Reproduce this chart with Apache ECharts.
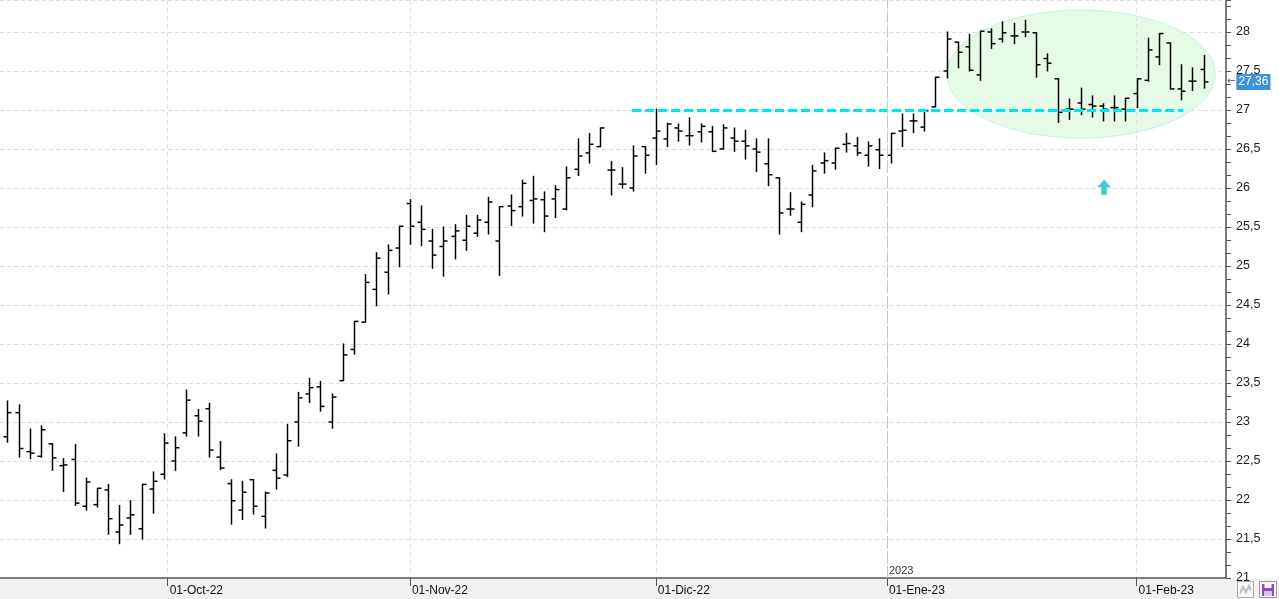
<!DOCTYPE html>
<html>
<head>
<meta charset="utf-8">
<script src="https://cdn.jsdelivr.net/npm/echarts@6/dist/echarts.min.js"></script>
<style>
html,body{margin:0;padding:0;background:#fff;}
#chart{width:1279px;height:599px;}
</style>
</head>
<body>
<div id="chart"></div>
<script>
// ---- DATA ----
const dates = [
'2022-09-12','2022-09-13','2022-09-14','2022-09-15','2022-09-16','2022-09-19','2022-09-20','2022-09-21','2022-09-22','2022-09-23','2022-09-26','2022-09-27','2022-09-28','2022-09-29','2022-09-30',
'2022-10-03','2022-10-04','2022-10-05','2022-10-06','2022-10-07','2022-10-10','2022-10-11','2022-10-12','2022-10-13','2022-10-14','2022-10-17','2022-10-18','2022-10-19','2022-10-20','2022-10-21','2022-10-24','2022-10-25','2022-10-26','2022-10-27','2022-10-28','2022-10-31',
'2022-11-01','2022-11-02','2022-11-03','2022-11-04','2022-11-07','2022-11-08','2022-11-09','2022-11-10','2022-11-11','2022-11-14','2022-11-15','2022-11-16','2022-11-17','2022-11-18','2022-11-21','2022-11-22','2022-11-23','2022-11-24','2022-11-25','2022-11-28','2022-11-29','2022-11-30',
'2022-12-01','2022-12-02','2022-12-05','2022-12-06','2022-12-07','2022-12-08','2022-12-09','2022-12-12','2022-12-13','2022-12-14','2022-12-15','2022-12-16','2022-12-19','2022-12-20','2022-12-21','2022-12-22','2022-12-23','2022-12-27','2022-12-28','2022-12-29','2022-12-30',
'2023-01-02','2023-01-03','2023-01-04','2023-01-05','2023-01-06','2023-01-09','2023-01-10','2023-01-11','2023-01-12','2023-01-13','2023-01-16','2023-01-17','2023-01-18','2023-01-19','2023-01-20','2023-01-23','2023-01-24','2023-01-25','2023-01-26','2023-01-27','2023-01-30','2023-01-31',
'2023-02-01','2023-02-02','2023-02-03','2023-02-06','2023-02-07','2023-02-08','2023-02-09'
];
const opens = [22.81,23.12,22.62,22.56,22.72,22.44,22.52,21.92,21.94,22.13,21.59,21.77,21.63,22.14,22.33,22.50,22.86,23.08,23.17,22.55,22.21,21.87,22.26,21.79,22.38,22.32,23.00,23.36,23.45,23.00,23.53,23.93,24.28,24.70,24.92,25.23,25.80,25.56,25.32,25.25,25.38,25.33,25.42,25.56,25.32,25.77,25.76,25.84,25.85,25.86,25.73,26.24,26.45,26.53,26.23,26.05,26.00,26.53,26.64,26.63,26.77,26.67,26.72,26.72,26.50,26.64,26.60,26.50,26.31,26.13,25.73,25.56,25.91,26.32,26.32,26.56,26.54,26.42,26.49,26.42,26.73,26.86,26.78,27.04,27.50,27.87,27.81,27.45,28.00,27.91,27.95,28.00,27.99,27.66,27.40,27.01,27.09,27.07,27.05,27.03,27.01,27.21,27.38,27.68,27.86,27.27,27.37,27.52];
const highs = [23.27,23.22,22.91,22.95,22.72,22.53,22.71,22.28,22.15,22.20,21.93,21.99,22.20,22.36,22.85,22.81,23.41,23.16,23.24,22.75,22.26,22.24,22.26,22.10,22.59,22.97,23.38,23.56,23.52,23.36,24.00,24.29,24.89,25.17,25.27,25.51,25.85,25.77,25.47,25.50,25.53,25.65,25.65,25.88,25.76,25.91,26.10,26.15,25.95,26.03,26.27,26.63,26.70,26.77,26.34,26.26,26.54,26.53,27.01,26.83,26.82,26.90,26.82,26.79,26.81,26.77,26.74,26.63,26.63,26.13,25.94,25.82,26.29,26.45,26.51,26.70,26.65,26.59,26.63,26.70,26.95,26.95,26.99,27.42,28.00,27.87,27.97,28.01,28.04,28.13,28.11,28.15,27.99,27.72,27.40,27.14,27.28,27.18,27.08,27.18,27.15,27.40,27.92,27.98,27.86,27.58,27.54,27.70];
const lows = [22.74,22.55,22.53,22.55,22.38,22.11,21.93,21.87,21.91,21.56,21.44,21.56,21.50,21.83,22.27,22.38,22.82,22.82,22.55,22.39,21.69,21.75,21.82,21.64,22.14,22.30,22.69,23.25,23.14,22.92,23.53,23.87,24.28,24.49,24.64,24.99,25.28,25.26,24.97,24.87,25.09,25.20,25.38,25.41,24.88,25.52,25.64,25.55,25.44,25.62,25.72,26.16,26.32,26.53,25.91,26.00,25.96,26.19,26.30,26.53,26.60,26.55,26.59,26.47,26.50,26.47,26.37,26.21,26.03,25.41,25.65,25.44,25.76,26.19,26.24,26.46,26.42,26.28,26.25,26.32,26.53,26.71,26.73,27.04,27.41,27.54,27.50,27.38,27.79,27.87,27.85,27.94,27.42,27.50,26.84,26.88,26.94,26.91,26.86,26.86,26.86,27.03,27.37,27.58,27.27,27.13,27.25,27.28];
const closes = [23.12,22.66,22.60,22.90,22.54,22.45,21.96,22.23,22.15,21.76,21.68,21.81,22.20,22.24,22.73,22.67,23.28,23.01,22.64,22.41,21.99,22.10,21.92,22.09,22.28,22.76,23.31,23.44,23.20,23.32,23.86,24.29,24.79,25.10,25.20,25.51,25.51,25.47,25.14,25.32,25.45,25.51,25.59,25.82,25.76,25.71,26.06,25.86,25.64,25.98,26.13,26.41,26.56,26.77,26.23,26.05,26.41,26.42,26.73,26.82,26.73,26.67,26.79,26.47,26.77,26.60,26.54,26.46,26.17,25.68,25.73,25.79,26.22,26.35,26.51,26.57,26.45,26.54,26.42,26.70,26.74,26.86,26.99,27.42,27.91,27.74,27.51,28.01,27.85,27.99,27.95,28.00,27.58,27.60,26.97,27.01,27.01,27.05,27.01,27.03,27.15,27.40,27.77,27.98,27.27,27.24,27.37,27.36];

// month ticks (position in bar units, calendar-interpolated) and their labels
const tickLabels = ['01-Oct-22','01-Nov-22','01-Dic-22','01-Ene-23','01-Feb-23'];
const tickAt = [14.3333, 36, 58, 78.6667, 101];
const yearLabel = '2023';
const yearAt = 78.6667;

// annotations (data units)
const supportLevel = 27.0;
const supportFrom = 55.87, supportTo = 105.16;
const lastPrice = 27.36;
const zoneEllipse = [96.03, 27.46, 11.99, 0.82]; // centre x, centre y, radius x, radius y
const arrowAt = [98.09, 26.01];

// ---- AXIS SETUP ----
const XMIN = -2/3, XMAX = 109, FINE = 3;
const nFine = Math.round((XMAX - XMIN) * FINE) + 1;
const fineCats = [];
const fineLabel = {};
for (let k = 0; k < nFine; k++) fineCats.push('k' + k);
tickAt.forEach((p, i) => { fineLabel['k' + Math.round((p - XMIN) * FINE)] = tickLabels[i]; });
const yearKey = 'k' + Math.round((yearAt - XMIN) * FINE);
const isTick = (idx) => fineLabel[fineCats[idx]] !== undefined;
const isYear = (idx) => fineCats[idx] === yearKey;

const ohlc = dates.map((d, i) => [i, opens[i], highs[i], lows[i], closes[i]]);

const FONT = "'Liberation Sans', Arial, sans-serif";

function renderOHLC(params, api) {
  const i = api.value(0);
  const pO = api.coord([i, api.value(1)]);
  const pH = api.coord([i, api.value(2)]);
  const pL = api.coord([i, api.value(3)]);
  const pC = api.coord([i, api.value(4)]);
  const x = Math.round(pH[0]) + 0.5;
  const st = { stroke: '#000', lineWidth: 1.5 };
  return {
    type: 'group',
    children: [
      { type: 'line', shape: { x1: x, y1: pH[1] - 0.5, x2: x, y2: pL[1] + 0.5 }, style: st },
      { type: 'line', shape: { x1: x - 4, y1: pO[1], x2: x, y2: pO[1] }, style: st },
      { type: 'line', shape: { x1: x, y1: pC[1], x2: x + 4, y2: pC[1] }, style: st }
    ]
  };
}

function renderEllipse(params, api) {
  const c = api.coord([api.value(0), api.value(1)]);
  const s = api.size([api.value(2), api.value(3)]);
  const pts = [];
  for (let a = 0; a < 120; a++) {
    const t = a / 120 * Math.PI * 2;
    pts.push([c[0] + s[0] * Math.cos(t), c[1] + s[1] * Math.sin(t)]);
  }
  return { type: 'polygon', shape: { points: pts }, style: { fill: '#e6fbe6', stroke: '#c4f2e6', lineWidth: 1 } };
}

const chart = echarts.init(document.getElementById('chart'), null, { renderer: 'canvas' });
chart.setOption({
  animation: false,
  backgroundColor: '#ffffff',
  grid: { left: 0, right: 53, top: 0, bottom: 21, containLabel: false },
  xAxis: [
    { type: 'value', min: XMIN, max: XMAX, show: false, gridIndex: 0, axisLine: { onZero: false } },
    {
      type: 'category', data: fineCats, boundaryGap: false, position: 'bottom', gridIndex: 0, z: 3,
      axisLine: { show: true, onZero: false, lineStyle: { color: '#555', width: 1.5 } },
      axisTick: { show: true, interval: isTick, length: 8, lineStyle: { color: '#555' } },
      axisLabel: { show: true, interval: isTick, formatter: v => fineLabel[v] || '', align: 'left', margin: 7,
                   padding: [0, 0, 0, 2], color: '#111', fontSize: 12, fontFamily: FONT },
      splitLine: { show: true, interval: isTick, lineStyle: { color: '#e2e2e2', type: [5, 3], width: 1 } }
    },
    {
      type: 'category', data: fineCats, boundaryGap: false, position: 'bottom', gridIndex: 0,
      axisLine: { show: false, onZero: false }, axisTick: { show: false }, splitLine: { show: false },
      axisLabel: { show: true, inside: true, interval: isYear, formatter: () => yearLabel, align: 'left', margin: 2,
                   padding: [0, 0, 0, 2], color: '#333', fontSize: 11, fontFamily: FONT }
    }
  ],
  yAxis: {
    type: 'value', position: 'right', min: 21, max: 28.41, interval: 0.5,
    axisLine: { show: true, onZero: false, lineStyle: { color: '#555', width: 1.5 } },
    axisTick: { show: true, length: 5, lineStyle: { color: '#555' } },
    minorTick: { show: true, splitNumber: 3, length: 5, lineStyle: { color: '#555' } },
    axisLabel: { showMaxLabel: false, margin: 10, color: '#1e1e1e', fontSize: 12.5, fontFamily: FONT,
                 formatter: v => String(v).replace('.', ',') },
    splitLine: { show: true, lineStyle: { color: '#dcdcdc', type: [4, 3], width: 1 } }
  },
  series: [
    {
      type: 'custom', name: 'zone', xAxisIndex: 0, yAxisIndex: 0, z: 1, silent: true,
      renderItem: renderEllipse, data: [zoneEllipse], encode: { x: 0, y: 1 }
    },
    {
      type: 'custom', name: 'OHLC', xAxisIndex: 0, yAxisIndex: 0, z: 3,
      renderItem: renderOHLC, data: ohlc, encode: { x: 0, y: [1, 2, 3, 4] },
      markLine: {
        silent: true, symbol: 'none', animation: false,
        data: [
          [{ coord: [supportFrom, supportLevel] }, { coord: [supportTo, supportLevel] }],
          { xAxis: yearAt, lineStyle: { color: '#c6c6c6', type: [12, 3], width: 1 }, label: { show: false } },
          { yAxis: lastPrice, lineStyle: { color: 'rgba(0,0,0,0)', width: 1, type: 'solid' },
            label: { show: true, position: 'end', distance: 1,
                     formatter: () => '{a|←}{b|' + String(lastPrice).replace('.', ',') + '}',
                     rich: {
                       a: { color: '#555', fontSize: 10, fontFamily: "'DejaVu Sans', sans-serif", padding: [0, 1, 0, 0] },
                       b: { color: '#fff', backgroundColor: '#3d8fe2', fontSize: 12, fontFamily: FONT, padding: [2, 2, 2, 2] }
                     } } }
        ],
        lineStyle: { color: '#00e6ee', width: 3, type: [9, 4] },
        label: { show: false }
      },
      markPoint: {
        silent: true, animation: false,
        data: [{ coord: arrowAt }],
        symbol: 'path://M6.5,0 L13,7 L9,7 L9,14 L4,14 L4,7 L0,7 Z',
        symbolSize: [14, 15],
        itemStyle: { color: '#3ccccf' },
        label: { show: false }
      }
    }
  ],
  graphic: [
    { type: 'rect', z: -10, shape: { x: 0, y: 579, width: 1279, height: 20 }, style: { fill: '#f0f0f0' } },
    { type: 'group', z: 10, children: [
      { type: 'rect', shape: { x: 1237.5, y: 581.5, width: 16, height: 16 }, style: { fill: '#f7f7f7', stroke: '#aaa', lineWidth: 1 } },
      { type: 'polyline', shape: { points: [[1240, 592], [1243, 586], [1246, 591], [1249, 585], [1251, 589]] }, style: { stroke: '#bbb', lineWidth: 1.2, fill: null } },
      { type: 'polyline', shape: { points: [[1240, 594], [1243, 588], [1246, 593], [1249, 587], [1251, 591]] }, style: { stroke: '#bbb', lineWidth: 1.2, fill: null } },
      { type: 'rect', shape: { x: 1259.5, y: 581.5, width: 17, height: 16 }, style: { fill: '#f7f7f7', stroke: '#999', lineWidth: 1 } },
      { type: 'rect', shape: { x: 1262, y: 584, width: 12, height: 12 }, style: { fill: '#8a4bc6' } },
      { type: 'rect', shape: { x: 1264.5, y: 584, width: 7, height: 4 }, style: { fill: '#ffffff' } },
      { type: 'rect', shape: { x: 1264, y: 591, width: 8, height: 5 }, style: { fill: '#d9c3f0' } }
    ] }
  ]
});
</script>
</body>
</html>
